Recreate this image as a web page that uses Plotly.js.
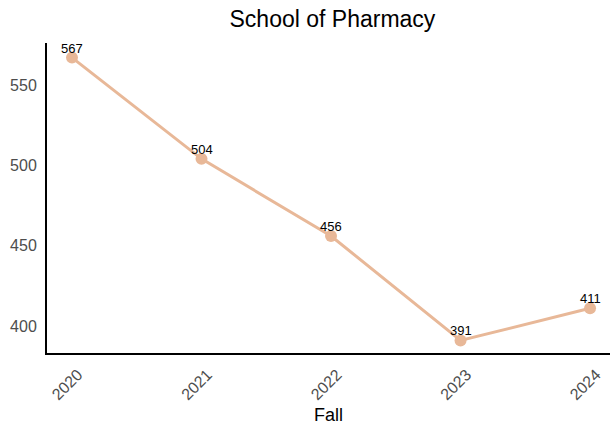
<!DOCTYPE html>
<html>
<head>
<script src="https://cdn.plot.ly/plotly-3.0.1.min.js"></script>
<style>body{margin:0;padding:0;}#chart{width:610px;height:429px;}</style>
</head>
<body>
<div id="chart"></div>
<script>
const years = [2020, 2021, 2022, 2023, 2024];
const enrollment = [567, 504, 456, 391, 411];
const yTicks = [400, 450, 500, 550];
const FONT = 'Liberation Sans, Arial, sans-serif';
const COLOR = '#E8B898';

const trace = {
  x: years,
  y: enrollment,
  mode: 'lines+markers',
  line: {color: COLOR, width: 3},
  marker: {color: COLOR, size: 12},
  hoverinfo: 'skip',
  cliponaxis: false
};

const labels = years.map((yr, i) => ({
  x: yr, y: enrollment[i], xref: 'x', yref: 'y',
  text: String(enrollment[i]), showarrow: false,
  xanchor: 'center', yanchor: 'bottom', yshift: 0,
  font: {family: FONT, size: 13, color: '#000'}
}));

const layout = {
  width: 610, height: 429,
  margin: {l: 47, r: 0, t: 43, b: 76},
  paper_bgcolor: '#fff', plot_bgcolor: '#fff',
  showlegend: false,
  font: {family: FONT},
  annotations: labels,
  title: {text: 'School of Pharmacy', x: 0.545, xanchor: 'center', y: 0.975, yanchor: 'top',
          font: {size: 23, color: '#000'}},
  xaxis: {
    range: [2019.807, 2024.154],
    tickvals: years, ticktext: years.map(String),
    tickangle: -45,
    showgrid: false, zeroline: false,
    showline: true, linecolor: '#000', linewidth: 2,
    ticks: 'outside', ticklen: 4, tickcolor: 'rgba(0,0,0,0)',
    ticklabelshift: 6,
    tickfont: {size: 16, color: '#4d4d4d'},
    title: {text: 'Fall', font: {size: 18, color: '#000'}, standoff: 6}
  },
  yaxis: {
    range: [383.2, 576.1],
    tickvals: yTicks,
    showgrid: false, zeroline: false,
    showline: true, linecolor: '#000', linewidth: 2,
    ticks: 'outside', ticklen: 5, tickcolor: 'rgba(0,0,0,0)',
    tickfont: {size: 16, color: '#4d4d4d'}
  }
};

Plotly.newPlot('chart', [trace], layout, {displayModeBar: false, staticPlot: true});
</script>
</body>
</html>
